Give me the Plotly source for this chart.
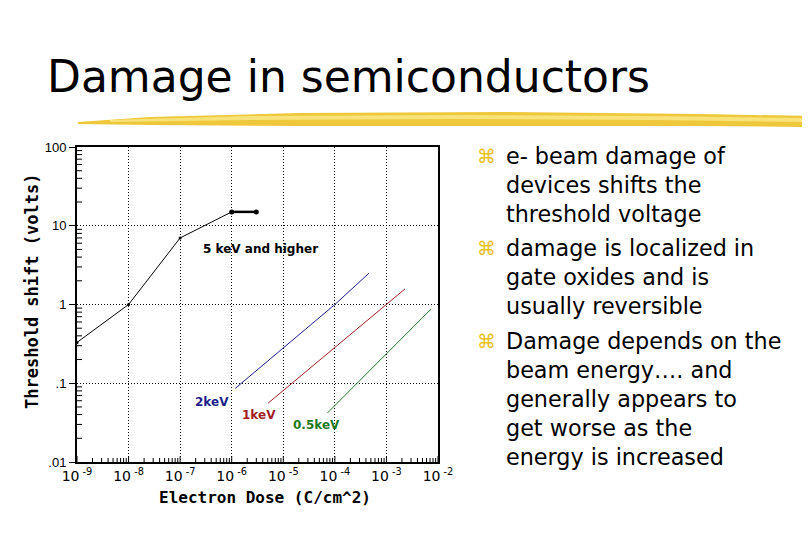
import plotly.graph_objects as go

# ---- data ----
dose_5kev = [1e-9, 1e-8, 1e-7, 1e-6]
shift_5kev = [0.33, 1.0, 7.0, 15.0]
dose_5kev_plateau = [1e-6, 3e-6]
shift_5kev_plateau = [15.0, 15.0]

dose_2kev = [1.17e-6, 1e-4, 4.6e-4]
shift_2kev = [0.086, 1.0, 2.5]

dose_1kev = [5.1e-6, 1e-3, 2.3e-3]
shift_1kev = [0.056, 1.0, 1.58]

dose_05kev = [7.2e-5, 1e-3, 7.4e-3]
shift_05kev = [0.042, 0.24, 0.88]

x_tick_vals = [1e-9, 1e-8, 1e-7, 1e-6, 1e-5, 1e-4, 1e-3, 1e-2]
x_tick_text = ["10<sup> -9</sup>", "10<sup> -8</sup>", "10<sup> -7</sup>", "10<sup> -6</sup>",
               "10<sup> -5</sup>", "10<sup> -4</sup>", "10<sup> -3</sup>", "10<sup> -2</sup>"]
y_tick_vals = [0.01, 0.1, 1, 10, 100]
y_tick_text = [".01", ".1", "1", "10", "100"]

x_title = "Electron Dose (C/cm^2)"
y_title = "Threshold shift (volts)"
title_text = "Damage in semiconductors"
bullet_lines = [
    ("e- beam damage of", True),
    ("devices shifts the", False),
    ("threshold voltage", False),
    ("damage is localized in", True),
    ("gate oxides and is", False),
    ("usually reversible", False),
    ("Damage depends on the", True),
    ("beam energy…. and", False),
    ("generally appears to", False),
    ("get worse as the", False),
    ("energy is increased", False),
]
bullet_y_px = [156, 185, 214, 248, 277, 306, 341, 370, 399, 428, 457]

# ---- layout geometry (page pixels; page has an 8px body margin) ----
OFF = 8
W, H = 810 - OFF, 540 - OFF
PL, PR, PT, PB = 77, 438, 147, 462


def px(xp):
    return (xp - PL) / (PR - PL)


def py(yp):
    return (PB - yp) / (PB - PT)


BLUE = "#1e1e8c"
RED = "#a21e24"
GREEN = "#1e7a1e"

fig = go.Figure()
fig.add_trace(go.Scatter(x=dose_5kev, y=shift_5kev, mode="lines+markers",
                         line=dict(color="black", width=1), marker=dict(size=3, color="black")))
fig.add_trace(go.Scatter(x=dose_5kev_plateau, y=shift_5kev_plateau, mode="lines+markers",
                         line=dict(color="black", width=2.5), marker=dict(size=5, color="black")))
fig.add_trace(go.Scatter(x=dose_2kev, y=shift_2kev, mode="lines",
                         line=dict(color=BLUE, width=1)))
fig.add_trace(go.Scatter(x=dose_1kev, y=shift_1kev, mode="lines",
                         line=dict(color=RED, width=1)))
fig.add_trace(go.Scatter(x=dose_05kev, y=shift_05kev, mode="lines",
                         line=dict(color=GREEN, width=1)))

annotations = [
    dict(x=-6.59, y=0.708, xref="x", yref="y", text="<b>5 keV and higher</b>", showarrow=False,
         xanchor="left", font=dict(family="DejaVu Sans", size=12, color="black")),
    dict(x=-6.39, y=-1.234, xref="x", yref="y", text="<b>2keV</b>", showarrow=False,
         font=dict(family="DejaVu Sans", size=12, color=BLUE)),
    dict(x=-5.48, y=-1.40, xref="x", yref="y", text="<b>1keV</b>", showarrow=False,
         font=dict(family="DejaVu Sans", size=12, color=RED)),
    dict(x=-4.36, y=-1.53, xref="x", yref="y", text="<b>0.5keV</b>", showarrow=False,
         font=dict(family="DejaVu Sans", size=12, color=GREEN)),
    dict(x=px(265), y=py(497), xref="paper", yref="paper", text=f"<b>{x_title}</b>",
         showarrow=False, xanchor="center", yanchor="middle",
         font=dict(family="DejaVu Sans Mono", size=16, color="black")),
    dict(x=px(32), y=py(292), xref="paper", yref="paper", text=f"<b>{y_title}</b>",
         showarrow=False, xanchor="center", yanchor="middle", textangle=-90,
         font=dict(family="DejaVu Sans Mono", size=17, color="black")),
    dict(x=px(45), y=py(77), xref="paper", yref="paper", text=title_text, showarrow=False,
         xanchor="left", yanchor="middle", font=dict(family="DejaVu Sans", size=44, color="black")),
]
for (txt, bullet), yp in zip(bullet_lines, bullet_y_px):
    if bullet:
        annotations.append(dict(x=px(475), y=py(yp), xref="paper", yref="paper", text="⌘",
                                showarrow=False, xanchor="left", yanchor="middle",
                                font=dict(family="DejaVu Sans", size=19, color="#e8c21e")))
    annotations.append(dict(x=px(504), y=py(yp), xref="paper", yref="paper", text=txt,
                            showarrow=False, xanchor="left", yanchor="middle",
                            font=dict(family="DejaVu Sans", size=22.3, color="black")))


def path(points):
    return "M " + " L ".join(f"{px(a):.4f},{py(b):.4f}" for a, b in points) + " Z"


stroke_outer = [(78, 122), (150, 117), (300, 113), (500, 112), (700, 114), (812, 116),
                (812, 127), (700, 126), (500, 126), (300, 126), (150, 125), (78, 124)]
stroke_inner = [(110, 120), (250, 116), (450, 115), (650, 116), (805, 118),
                (805, 122), (650, 120), (450, 119), (250, 120), (110, 122)]
shapes = [
    dict(type="path", xref="paper", yref="paper", path=path(stroke_outer),
         fillcolor="#eec83a", line=dict(width=0), layer="below"),
    dict(type="path", xref="paper", yref="paper", path=path(stroke_inner),
         fillcolor="#f8e27a", line=dict(width=0), layer="below"),
]

# small inside minor ticks (2..9 in each decade) on the bottom and left axes
for e in range(-9, -2):
    for m in range(2, 10):
        v = m * 10.0 ** e
        shapes.append(dict(type="line", xref="x", yref="paper", x0=v, x1=v,
                           ysizemode="pixel", yanchor=0, y0=0, y1=4,
                           line=dict(color="black", width=1)))
for v in x_tick_vals:
    shapes.append(dict(type="line", xref="x", yref="paper", x0=v, x1=v,
                       ysizemode="pixel", yanchor=0, y0=0, y1=6,
                       line=dict(color="black", width=1)))
for e in range(-2, 2):
    for m in range(2, 10):
        v = m * 10.0 ** e
        shapes.append(dict(type="line", xref="paper", yref="y", y0=v, y1=v,
                           xsizemode="pixel", xanchor=0, x0=0, x1=5,
                           line=dict(color="black", width=1)))

fig.update_layout(
    width=W, height=H,
    margin=dict(l=PL - OFF, r=810 - PR, t=PT - OFF, b=540 - PB),
    paper_bgcolor="white", plot_bgcolor="white",
    showlegend=False,
    annotations=annotations,
    shapes=shapes,
    xaxis=dict(type="log", range=[-9, -2], tickvals=x_tick_vals, ticktext=x_tick_text,
               showgrid=True, gridcolor="black", griddash="1px,2px", gridwidth=1,
               showline=True, linecolor="black", linewidth=2, mirror=True,
               ticks="", tickfont=dict(family="DejaVu Sans", size=14, color="black"),
               zeroline=False),
    yaxis=dict(type="log", range=[-2, 2], tickvals=y_tick_vals, ticktext=y_tick_text,
               showgrid=True, gridcolor="black", griddash="1px,2px", gridwidth=1,
               showline=True, linecolor="black", linewidth=2, mirror=True,
               ticks="outside", ticklen=6, tickcolor="black", tickwidth=1,
               tickfont=dict(family="Liberation Sans", size=13, color="black"),
               zeroline=False),
)

fig.write_html("out.html")
